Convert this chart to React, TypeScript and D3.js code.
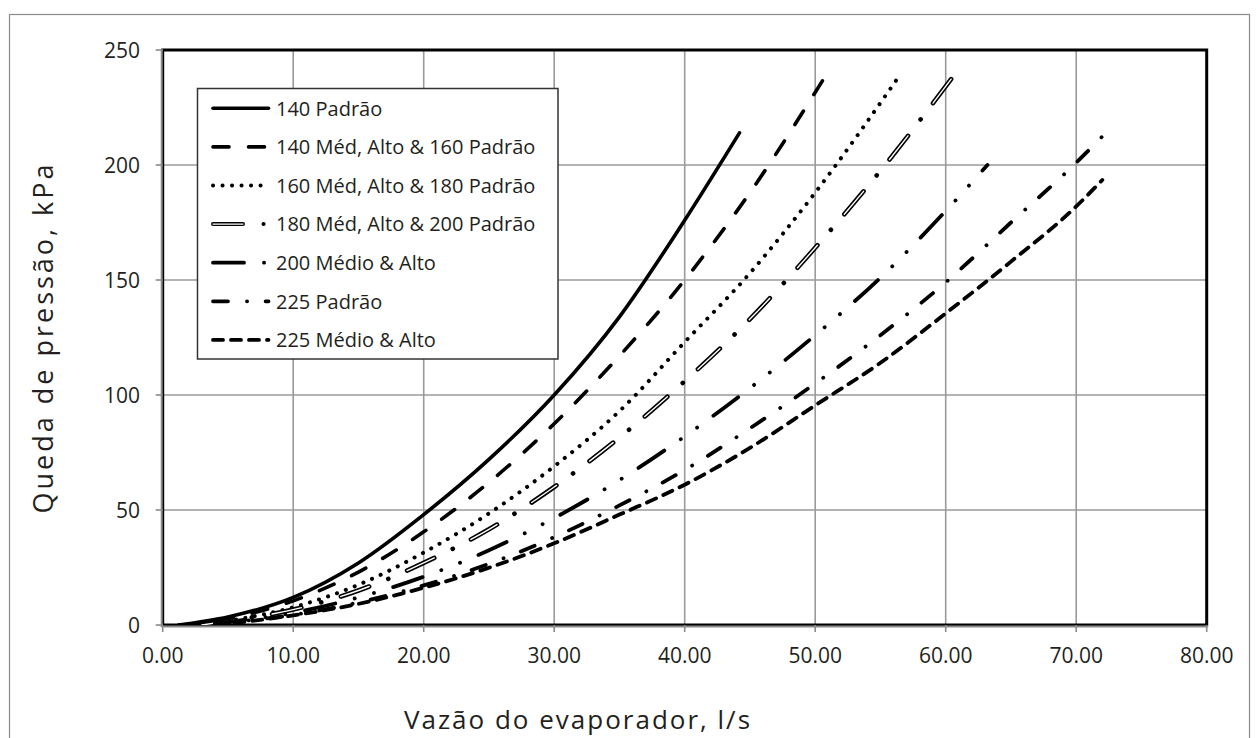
import React from "react";
import * as d3 from "d3";

const xTicks = [0, 10, 20, 30, 40, 50, 60, 70, 80];
const yTicks = [0, 50, 100, 150, 200, 250];

const seriesNames = [
  "140 Padrão",
  "140 Méd, Alto & 160 Padrão",
  "160 Méd, Alto & 180 Padrão",
  "180 Méd, Alto & 200 Padrão",
  "200 Médio & Alto",
  "225 Padrão",
  "225 Médio & Alto",
];

const flow140P = [1.2, 5, 10, 15, 20, 25, 30, 35, 40, 44.2];
const drop140P = [0, 3.5, 12, 27, 48, 72, 100, 134, 176, 214];

const flow140M = [1.5, 5, 10, 15, 20, 25, 30, 35, 40, 45, 50.6];
const drop140M = [0, 2.8, 10.5, 23, 40.5, 62, 87.5, 117, 150, 188, 237];

const flow160M = [2, 5, 10, 15, 20, 25, 30, 35, 40, 45, 50, 56.6];
const drop160M = [0, 1.9, 7.7, 17.5, 31.5, 48.5, 69, 93, 123, 153, 188, 240];

const flow180M = [3, 5, 10, 15, 20, 25, 30, 35, 40, 45, 50, 55, 60.5];
const drop180M = [0, 1.7, 6.7, 15, 27, 41.6, 60, 81.5, 106, 133, 164, 197.5, 238];

const flow200M = [4, 5, 10, 15, 20, 25, 30, 35, 40, 45, 50, 55, 60, 63.2];
const drop200M = [0.5, 1.3, 5.3, 12, 21, 32.5, 46.5, 63, 82, 103, 126, 151, 180, 200];

const flow225P = [4, 5, 10, 15, 20, 25, 30, 35, 40, 45, 50, 55, 60, 65, 70, 72.1];
const drop225P = [0.6, 1.1, 4.4, 9.8, 17.2, 26.6, 38.2, 52, 67.4, 85.5, 105, 126, 149, 175, 201, 213];

const flow225M = [5.5, 10, 15, 20, 25, 30, 35, 40, 45, 50, 55, 60, 65, 70, 72];
const drop225M = [0.9, 4.2, 9.2, 16.2, 24.9, 35.5, 48, 61, 77, 95.5, 114, 135.5, 158, 182, 193.5];

const flows = [flow140P, flow140M, flow160M, flow180M, flow200M, flow225P, flow225M];
const drops = [drop140P, drop140M, drop160M, drop180M, drop200M, drop225P, drop225M];

type Style = { dash: string; width: number; white?: string };
const styles: Style[] = [
  { dash: "", width: 3.6 },
  { dash: "16 19.5", width: 3.6 },
  { dash: "0.1 9.4", width: 4 },
  { dash: "30 20.5 0.1 20.5", width: 4.6, white: "30 41.1" },
  { dash: "31 20 0.1 20 0.1 20", width: 3.8 },
  { dash: "15 19 0.1 18.5", width: 3.8 },
  { dash: "10 8", width: 3.8 },
];

const FONT = "'Open Sans', 'Noto Sans', sans-serif";
const TEXT = "#231f20";

export default function App() {
  const W = 1260;
  const H = 738;
  const left = 162.7;
  const right = 1206.7;
  const top = 50;
  const bottom = 625;
  const x = d3.scaleLinear().domain([0, 80]).range([left, right]);
  const y = d3.scaleLinear().domain([0, 250]).range([bottom, top]);
  const line = d3
    .line<[number, number]>()
    .x((d) => x(d[0]))
    .y((d) => y(d[1]))
    .curve(d3.curveMonotoneX);

  const legX = 197.5;
  const legY = 88.5;
  const legRowY = (i: number) => 108.3 + i * 38.6;

  return (
    <svg
      width={W}
      height={H}
      style={{ position: "absolute", left: 0, top: 0, background: "#fff" }}
    >
      <rect x={9.5} y={14.5} width={1240} height={740} fill="#fff" stroke="#8a8a8a" strokeWidth={1.2} />
      <defs>
        <clipPath id="plotClip">
          <rect x={left} y={top} width={right - left} height={bottom - top} />
        </clipPath>
      </defs>
      {xTicks.map((t) => (
        <line key={"gx" + t} x1={x(t)} x2={x(t)} y1={top} y2={bottom} stroke="#9a9a9a" strokeWidth={1.6} />
      ))}
      {yTicks.map((t) => (
        <line key={"gy" + t} x1={left} x2={right} y1={y(t)} y2={y(t)} stroke="#9a9a9a" strokeWidth={1.6} />
      ))}
      <rect x={left} y={top} width={right - left} height={bottom - top} fill="none" stroke="#000" strokeWidth={3} />
      <line x1={left - 1} x2={left - 1} y1={top - 1} y2={bottom + 2} stroke="#8a8a8a" strokeWidth={2} />
      <line x1={left - 1} x2={right + 1} y1={bottom + 1.5} y2={bottom + 1.5} stroke="#8a8a8a" strokeWidth={2} />
      {yTicks.map((t) => (
        <line key={"ty" + t} x1={left - 7} x2={left} y1={y(t)} y2={y(t)} stroke="#8a8a8a" strokeWidth={1.6} />
      ))}
      {xTicks.map((t) => (
        <line key={"tx" + t} x1={x(t)} x2={x(t)} y1={bottom} y2={bottom + 7} stroke="#8a8a8a" strokeWidth={1.6} />
      ))}
      {yTicks.map((t) => (
        <text key={"ly" + t} x={140} y={y(t)} dy="0.36em" textAnchor="end" fontFamily={FONT} fontSize={21} fill={TEXT}>
          {t}
        </text>
      ))}
      {xTicks.map((t) => (
        <text key={"lx" + t} x={x(t)} y={663} textAnchor="middle" fontFamily={FONT} fontSize={21} fill={TEXT}>
          {t.toFixed(2)}
        </text>
      ))}
      <text
        transform={`translate(53,${(top + bottom) / 2}) rotate(-90)`}
        textAnchor="middle"
        fontFamily={FONT}
        fontSize={27}
        letterSpacing={3}
        fill={TEXT}
      >
        Queda de pressão, kPa
      </text>
      <text x={578} y={729} textAnchor="middle" fontFamily={FONT} fontSize={26} letterSpacing={2} fill={TEXT}>
        Vazão do evaporador, l/s
      </text>
      <g clipPath="url(#plotClip)">
        {flows.map((fx, i) => {
          const pts = fx.map((v, j) => [v, drops[i][j]] as [number, number]);
          const d = line(pts) || "";
          const s = styles[i];
          return (
            <g key={"s" + i}>
              <path d={d} fill="none" stroke="#000" strokeWidth={s.width} strokeDasharray={s.dash || undefined} strokeLinecap="round" />
              {s.white && (
                <path d={d} fill="none" stroke="#fff" strokeWidth={1.4} strokeDasharray={s.white} strokeLinecap="round" />
              )}
            </g>
          );
        })}
      </g>
      <rect x={legX} y={legY} width={360.5} height={270.5} fill="#fff" stroke="#333" strokeWidth={1.5} />
      {seriesNames.map((n, i) => {
        const s = styles[i];
        const yy = legRowY(i);
        return (
          <g key={"lg" + i}>
            <line x1={213} x2={268.5} y1={yy} y2={yy} stroke="#000" strokeWidth={Math.min(s.width, 4)} strokeDasharray={s.dash || undefined} strokeLinecap="round" />
            {s.white && (
              <line x1={213} x2={268.5} y1={yy} y2={yy} stroke="#fff" strokeWidth={1.4} strokeDasharray={s.white} strokeLinecap="round" />
            )}
            <text x={276} y={yy} dy="0.36em" fontFamily={FONT} fontSize={20} fill={TEXT}>
              {n}
            </text>
          </g>
        );
      })}
    </svg>
  );
}
